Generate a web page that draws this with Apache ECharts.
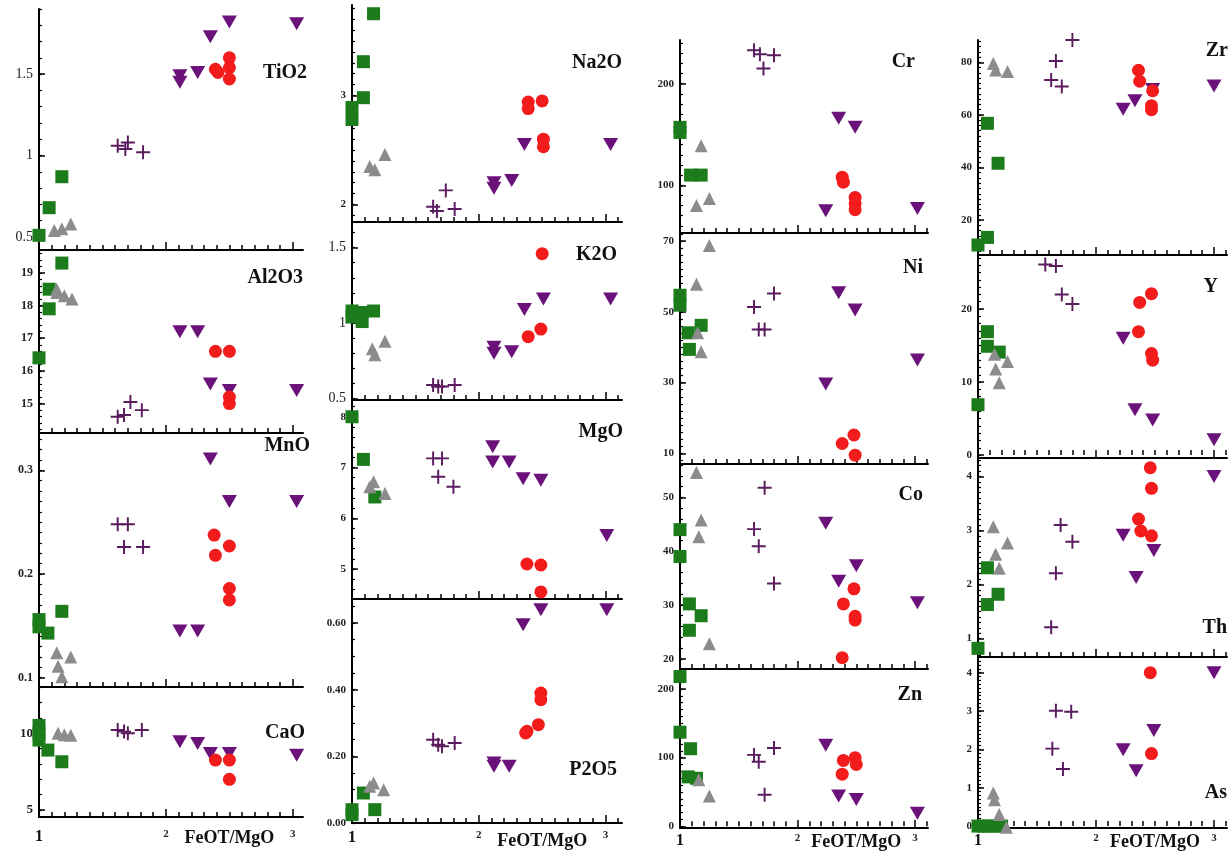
<!DOCTYPE html>
<html><head><meta charset="utf-8">
<script src="https://cdn.jsdelivr.net/npm/echarts@6/dist/echarts.min.js"></script>
<style>html,body{margin:0;padding:0;background:#fff}#c{width:1229px;height:851px}</style>
</head><body><div id="c"></div>
<script>
// ---------------- DATA (x = FeOT/MgO, y = oxide / element) ----------------
// sq = green squares, tri = grey triangles, plus = purple crosses, inv = purple inverted triangles, dot = red circles
const TiO2_sq   = [[1.0,0.51],[1.08,0.68],[1.18,0.87]];
const TiO2_tri  = [[1.12,0.54],[1.18,0.55],[1.25,0.58]];
const TiO2_plus = [[1.62,1.06],[1.68,1.04],[1.70,1.08],[1.82,1.02]];
const TiO2_inv  = [[2.11,1.49],[2.11,1.45],[2.25,1.51],[2.35,1.73],[2.50,1.82],[3.03,1.81]];
const TiO2_dot  = [[2.39,1.53],[2.41,1.51],[2.50,1.60],[2.50,1.54],[2.50,1.47]];

const Al2O3_sq   = [[1.18,19.3],[1.08,18.5],[1.08,17.9],[1.0,16.4]];
const Al2O3_tri  = [[1.14,18.5],[1.14,18.4],[1.20,18.3],[1.26,18.2]];
const Al2O3_plus = [[1.62,14.6],[1.67,14.65],[1.72,15.05],[1.81,14.8]];
const Al2O3_inv  = [[2.11,17.2],[2.25,17.2],[2.35,15.6],[2.50,15.4],[3.03,15.4]];
const Al2O3_dot  = [[2.39,16.6],[2.50,16.6],[2.50,15.2],[2.50,15.0]];

const MnO_sq   = [[1.0,0.156],[1.0,0.149],[1.07,0.143],[1.18,0.164]];
const MnO_tri  = [[1.14,0.124],[1.25,0.120],[1.15,0.111],[1.18,0.101]];
const MnO_plus = [[1.62,0.248],[1.70,0.248],[1.67,0.226],[1.82,0.226]];
const MnO_inv  = [[2.35,0.311],[2.50,0.270],[3.03,0.270],[2.11,0.145],[2.25,0.145]];
const MnO_dot  = [[2.38,0.2375],[2.50,0.227],[2.39,0.218],[2.50,0.186],[2.50,0.175]];

const CaO_sq   = [[1.0,10.5],[1.0,10.0],[1.0,9.55],[1.07,8.9],[1.18,8.14]];
const CaO_tri  = [[1.15,10.0],[1.20,9.9],[1.25,9.87]];
const CaO_plus = [[1.62,10.2],[1.67,10.1],[1.70,10.0],[1.81,10.2]];
const CaO_inv  = [[2.11,9.44],[2.25,9.33],[2.35,8.68],[2.50,8.68],[3.03,8.57]];
const CaO_dot  = [[2.39,8.25],[2.50,8.25],[2.50,7.0]];

const Na2O_sq   = [[1.17,3.75],[1.09,3.31],[1.09,2.98],[1.0,2.89],[1.0,2.78]];
const Na2O_tri  = [[1.14,2.35],[1.18,2.32],[1.26,2.46]];
const Na2O_plus = [[1.74,2.13],[1.64,1.98],[1.67,1.94],[1.81,1.96]];
const Na2O_inv  = [[2.12,2.20],[2.12,2.15],[2.26,2.22],[2.36,2.55],[3.04,2.55]];
const Na2O_dot  = [[2.39,2.94],[2.39,2.88],[2.50,2.95],[2.51,2.60],[2.51,2.53]];

const K2O_sq   = [[1.0,1.04],[1.0,1.08],[1.08,1.01],[1.08,1.07],[1.17,1.08]];
const K2O_tri  = [[1.16,0.83],[1.18,0.79],[1.26,0.88]];
const K2O_plus = [[1.64,0.59],[1.68,0.58],[1.71,0.58],[1.81,0.59]];
const K2O_inv  = [[2.12,0.84],[2.12,0.80],[2.26,0.81],[2.36,1.09],[2.51,1.16],[3.04,1.16]];
const K2O_dot  = [[2.50,1.46],[2.39,0.91],[2.49,0.96]];

const MgO_sq   = [[1.0,8.0],[1.09,7.16],[1.18,6.42]];
const MgO_tri  = [[1.17,6.72],[1.14,6.62],[1.26,6.49]];
const MgO_plus = [[1.64,7.18],[1.71,7.18],[1.68,6.82],[1.80,6.62]];
const MgO_inv  = [[2.11,7.41],[2.11,7.11],[2.24,7.11],[2.35,6.78],[2.49,6.75],[3.01,5.66]];
const MgO_dot  = [[2.38,5.10],[2.49,5.08],[2.49,4.55]];

const P2O5_sq   = [[1.0,0.04],[1.0,0.025],[1.09,0.09],[1.18,0.04]];
const P2O5_tri  = [[1.14,0.11],[1.17,0.12],[1.25,0.10]];
const P2O5_plus = [[1.64,0.25],[1.68,0.235],[1.71,0.23],[1.81,0.24]];
const P2O5_inv  = [[2.12,0.18],[2.12,0.17],[2.24,0.17],[2.35,0.595],[2.49,0.64],[3.01,0.64]];
const P2O5_dot  = [[2.49,0.39],[2.49,0.37],[2.38,0.275],[2.37,0.27],[2.47,0.295]];

const Cr_sq   = [[1.0,152],[1.0,157],[1.09,110],[1.18,110]];
const Cr_tri  = [[1.18,139],[1.14,80],[1.25,87]];
const Cr_plus = [[1.63,233],[1.68,229],[1.80,228],[1.71,215]];
const Cr_inv  = [[2.35,166],[2.49,157],[2.24,75],[3.02,77]];
const Cr_dot  = [[2.38,108],[2.39,103],[2.49,88],[2.49,82],[2.49,76]];

const Ni_sq   = [[1.0,54.7],[1.0,51.9],[1.07,44.1],[1.18,46.2],[1.08,39.4]];
const Ni_tri  = [[1.25,68.8],[1.14,57.8],[1.15,44.1],[1.18,38.7]];
const Ni_plus = [[1.80,55.2],[1.63,51.4],[1.67,45],[1.72,45]];
const Ni_inv  = [[2.35,55.4],[2.49,50.5],[2.24,29.6],[3.02,36.4]];
const Ni_dot  = [[2.38,12.8],[2.48,15.2],[2.49,9.5]];

const Co_sq   = [[1.0,44],[1.0,39],[1.08,30.2],[1.18,28],[1.08,25.3]];
const Co_tri  = [[1.14,54.6],[1.18,45.8],[1.16,42.7],[1.25,22.8]];
const Co_plus = [[1.72,51.8],[1.63,44.1],[1.67,40.9],[1.80,34]];
const Co_inv  = [[2.24,45.2],[2.35,34.4],[2.50,37.3],[3.02,30.4]];
const Co_dot  = [[2.48,33],[2.39,30.2],[2.49,27.9],[2.49,27.2],[2.38,20.2]];

const Zn_sq   = [[1.0,218],[1.0,137],[1.09,113],[1.07,72],[1.14,70]];
const Zn_tri  = [[1.16,68],[1.25,44]];
const Zn_plus = [[1.63,104],[1.67,94],[1.80,114],[1.72,46]];
const Zn_inv  = [[2.24,118],[2.35,44],[2.50,39],[3.02,19]];
const Zn_dot  = [[2.39,96],[2.49,100],[2.50,90],[2.38,76]];

const Zr_sq   = [[1.0,10.5],[1.08,13.4],[1.08,56.8],[1.17,41.6]];
const Zr_tri  = [[1.13,79.6],[1.15,77.1],[1.25,76.5]];
const Zr_plus = [[1.80,88.5],[1.66,80.5],[1.62,73.3],[1.71,70.8]];
const Zr_inv  = [[2.23,62.2],[2.33,65.4],[2.48,69.7],[3.0,71]];
const Zr_dot  = [[2.36,77],[2.37,72.8],[2.48,69.2],[2.47,63.5],[2.47,62]];

const Y_sq   = [[1.08,16.9],[1.08,14.9],[1.18,14.1],[1.0,6.9]];
const Y_tri  = [[1.14,13.8],[1.25,12.8],[1.15,11.8],[1.18,9.9]];
const Y_plus = [[1.57,26.1],[1.66,25.9],[1.71,22],[1.80,20.7]];
const Y_inv  = [[2.23,16],[2.33,6.2],[2.48,4.8],[3.0,2.1]];
const Y_dot  = [[2.47,22.1],[2.37,20.9],[2.36,16.9],[2.47,13.9],[2.48,13.0]];

const Th_sq   = [[1.0,0.82],[1.08,1.63],[1.17,1.82],[1.08,2.31]];
const Th_tri  = [[1.13,3.07],[1.25,2.77],[1.15,2.56],[1.18,2.3]];
const Th_plus = [[1.70,3.1],[1.80,2.79],[1.66,2.21],[1.62,1.21]];
const Th_inv  = [[2.23,2.91],[2.34,2.13],[2.49,2.63],[3.0,4.0]];
const Th_dot  = [[2.46,4.16],[2.47,3.78],[2.36,3.21],[2.38,2.99],[2.47,2.9]];

const As_sq   = [[1.0,0],[1.05,0],[1.10,0],[1.15,0],[1.20,0]];
const As_tri  = [[1.13,0.86],[1.14,0.69],[1.18,0.3],[1.24,-0.03]];
const As_plus = [[1.66,3.01],[1.79,2.98],[1.63,2.02],[1.72,1.49]];
const As_inv  = [[3.0,4.0],[2.49,2.49],[2.23,1.99],[2.34,1.44]];
const As_dot  = [[2.46,4.0],[2.47,1.89]];

// tick label values
const X_ticks     = [1, 2, 3];
const TiO2_ticks  = [0.5, 1, 1.5];
const Al2O3_ticks = [15, 16, 17, 18, 19];
const MnO_ticks   = [0.1, 0.2, 0.3];
const CaO_ticks   = [5, 10];
const Na2O_ticks  = [2, 3];
const K2O_ticks   = [0.5, 1, 1.5];
const MgO_ticks   = [5, 6, 7, 8];
const P2O5_ticks  = [0, 0.2, 0.4, 0.6];
const Cr_ticks    = [100, 200];
const Ni_ticks    = [10, 30, 50, 70];
const Co_ticks    = [20, 30, 40, 50];
const Zn_ticks    = [0, 100, 200];
const Zr_ticks    = [20, 40, 60, 80];
const Y_ticks     = [0, 10, 20];
const Th_ticks    = [1, 2, 3, 4];
const As_ticks    = [0, 1, 2, 3, 4];

const SERIES_DATA = {
  TiO2:[TiO2_sq,TiO2_tri,TiO2_plus,TiO2_inv,TiO2_dot],
  Al2O3:[Al2O3_sq,Al2O3_tri,Al2O3_plus,Al2O3_inv,Al2O3_dot],
  MnO:[MnO_sq,MnO_tri,MnO_plus,MnO_inv,MnO_dot],
  CaO:[CaO_sq,CaO_tri,CaO_plus,CaO_inv,CaO_dot],
  Na2O:[Na2O_sq,Na2O_tri,Na2O_plus,Na2O_inv,Na2O_dot],
  K2O:[K2O_sq,K2O_tri,K2O_plus,K2O_inv,K2O_dot],
  MgO:[MgO_sq,MgO_tri,MgO_plus,MgO_inv,MgO_dot],
  P2O5:[P2O5_sq,P2O5_tri,P2O5_plus,P2O5_inv,P2O5_dot],
  Cr:[Cr_sq,Cr_tri,Cr_plus,Cr_inv,Cr_dot],
  Ni:[Ni_sq,Ni_tri,Ni_plus,Ni_inv,Ni_dot],
  Co:[Co_sq,Co_tri,Co_plus,Co_inv,Co_dot],
  Zn:[Zn_sq,Zn_tri,Zn_plus,Zn_inv,Zn_dot],
  Zr:[Zr_sq,Zr_tri,Zr_plus,Zr_inv,Zr_dot],
  Y:[Y_sq,Y_tri,Y_plus,Y_inv,Y_dot],
  Th:[Th_sq,Th_tri,Th_plus,Th_inv,Th_dot],
  As:[As_sq,As_tri,As_plus,As_inv,As_dot]
};

// ---------------- LAYOUT / STYLE ----------------
const COLUMNS = [
  {left:39,  right:303,  xmax:3.08, labMargin:12, titleY:838},
  {left:352, right:622,  xmax:3.13, labMargin:7,  titleY:841},
  {left:680, right:928,  xmax:3.11, labMargin:5,  titleY:842},
  {left:978, right:1227, xmax:3.11, labMargin:5,  titleY:842}
];
const PANELS = [
  {key:'TiO2', col:0, top:9,   bottom:250, ymin:0.42, ymax:1.9,  ticks:TiO2_ticks,  minor:0.1,  tag:[307,73],  fs:14, fw:'normal'},
  {key:'Al2O3',col:0, top:250, bottom:433, ymin:14.1, ymax:19.7, ticks:Al2O3_ticks, minor:0.2,  tag:[303,278], fs:12, fw:'bold'},
  {key:'MnO',  col:0, top:433, bottom:687, ymin:0.091,ymax:0.336,ticks:MnO_ticks,   minor:0.01, tag:[310,446], fs:12, fw:'bold'},
  {key:'CaO',  col:0, top:687, bottom:817, ymin:4.55, ymax:13.0, ticks:CaO_ticks,   minor:1,    tag:[305,733], fs:13, fw:'bold'},
  {key:'Na2O', col:1, top:5,   bottom:222, ymin:1.84, ymax:3.83, ticks:Na2O_ticks,  minor:0.1,  tag:[622,63],  fs:11, fw:'bold'},
  {key:'K2O',  col:1, top:222, bottom:400, ymin:0.49, ymax:1.67, ticks:K2O_ticks,   minor:0.1,  tag:[617,255], fs:14, fw:'normal'},
  {key:'MgO',  col:1, top:400, bottom:599, ymin:4.41, ymax:8.33, ticks:MgO_ticks,   minor:0.2,  tag:[623,432], fs:11, fw:'bold'},
  {key:'P2O5', col:1, top:599, bottom:823, ymin:0,    ymax:0.672,ticks:P2O5_ticks,  minor:0.05, tag:[617,770], fs:11, fw:'bold', dec:2},
  {key:'Cr',   col:2, top:40,  bottom:233, ymin:53,   ymax:243,  ticks:Cr_ticks,    minor:10,   tag:[915,62],  fs:11, fw:'bold'},
  {key:'Ni',   col:2, top:233, bottom:464, ymin:7,    ymax:72.3, ticks:Ni_ticks,    minor:2,    tag:[923,268], fs:11, fw:'bold'},
  {key:'Co',   col:2, top:464, bottom:669, ymin:18.1, ymax:56.2, ticks:Co_ticks,    minor:2,    tag:[923,495], fs:11, fw:'bold'},
  {key:'Zn',   col:2, top:669, bottom:828, ymin:-2.4, ymax:229,  ticks:Zn_ticks,    minor:10,   tag:[922,695], fs:11, fw:'bold'},
  {key:'Zr',   col:3, top:40,  bottom:255, ymin:6.7,  ymax:88.5, ticks:Zr_ticks,    minor:2,    tag:[1228,51], fs:11, fw:'bold'},
  {key:'Y',    col:3, top:255, bottom:458, ymin:-0.4, ymax:27.4, ticks:Y_ticks,     minor:1,    tag:[1218,287],fs:11, fw:'bold'},
  {key:'Th',   col:3, top:458, bottom:657, ymin:0.66, ymax:4.34, ticks:Th_ticks,    minor:0.1,  tag:[1227,628],fs:11, fw:'bold'},
  {key:'As',   col:3, top:657, bottom:828, ymin:-0.05,ymax:4.41, ticks:As_ticks,    minor:0.1,  tag:[1227,793],fs:11, fw:'bold'}
];
const GROUPS = [
  {name:'sq',   color:'#1c7c1c', symbol:'rect', size:13},
  {name:'tri',  color:'#8c8c8c', symbol:'triangle', size:13},
  {name:'plus', color:'#5a1c5e', symbol:'path://M0,8.6H20V11.4H0ZM8.6,0H11.4V20H8.6Z', size:14},
  {name:'inv',  color:'#6a127a', symbol:'path://M0,0H20L10,18Z', size:[15,13]},
  {name:'dot',  color:'#f21c1c', symbol:'circle', size:13}
];
const SERIF = '"Liberation Serif","DejaVu Serif",serif';

function steps(a, b, s) {
  const out = [];
  const k0 = Math.ceil(a / s - 1e-9), k1 = Math.floor(b / s + 1e-9);
  for (let k = k0; k <= k1; k++) out.push(+(k * s).toFixed(6));
  return out;
}

const grid = [], xAxis = [], yAxis = [], series = [], graphic = [];
const lastInCol = {};
PANELS.forEach((p, i) => { lastInCol[p.col] = i; });

PANELS.forEach((p, i) => {
  const c = COLUMNS[p.col];
  const g = {left:c.left, top:p.top, width:c.right - c.left, height:p.bottom - p.top,
             containLabel:false, outerBoundsMode:'none'};
  const isBottom = lastInCol[p.col] === i;
  // main grid
  grid.push(Object.assign({}, g));
  const gi = grid.length - 1;
  xAxis.push({
    type:'value', gridIndex:gi, min:1, max:c.xmax,
    axisLine:{show:true, onZero:false, lineStyle:{color:'#000', width:2}},
    axisTick:{show:true, inside:true, length:8, customValues:X_ticks, lineStyle:{color:'#000', width:1.5}},
    axisLabel:{show:isBottom, customValues:X_ticks, margin:c.labMargin, color:'#111',
      formatter: v => v === 1 ? '{b|1}' : '{s|' + v + '}',
      rich:{b:{fontSize:16, fontWeight:'bold', fontFamily:SERIF, color:'#111'},
            s:{fontSize:11, fontWeight:'bold', fontFamily:SERIF, color:'#222'}}},
    splitLine:{show:false}
  });
  yAxis.push({
    type:'value', gridIndex:gi, min:p.ymin, max:p.ymax,
    axisLine:{show:true, onZero:false, lineStyle:{color:'#000', width:2}},
    axisTick:{show:true, inside:true, length:6, customValues:p.ticks, lineStyle:{color:'#000', width:1.5}},
    axisLabel:{show:true, customValues:p.ticks, margin:6, color:'#222', fontSize:p.fs, fontWeight:p.fw, fontFamily:SERIF,
      formatter: v => p.dec ? v.toFixed(p.dec) : String(+v.toFixed(4))},
    splitLine:{show:false}
  });
  SERIES_DATA[p.key].forEach((data, k) => {
    const G = GROUPS[k];
    series.push({type:'scatter', xAxisIndex:gi, yAxisIndex:gi, data:data, clip:false,
      symbol:G.symbol, symbolSize:G.size, itemStyle:{color:G.color, opacity:1},
      emphasis:{disabled:true}, z:3 + k});
  });
  // minor-tick grid (same rectangle)
  grid.push(Object.assign({}, g));
  const gm = grid.length - 1;
  xAxis.push({type:'value', gridIndex:gm, min:1, max:c.xmax,
    axisLine:{show:false}, axisLabel:{show:false}, splitLine:{show:false},
    axisTick:{show:true, inside:true, length:5, customValues:steps(1, c.xmax, 0.1), lineStyle:{color:'#000', width:1.5}}});
  yAxis.push({type:'value', gridIndex:gm, min:p.ymin, max:p.ymax,
    axisLine:{show:false}, axisLabel:{show:false}, splitLine:{show:false},
    axisTick:{show:true, inside:true, length:3, customValues:steps(p.ymin, p.ymax, p.minor), lineStyle:{color:'#000', width:1.2}}});
  // panel name
  graphic.push({type:'text', x:p.tag[0], y:p.tag[1], z:10,
    style:{text:p.key, textAlign:'right', textVerticalAlign:'middle', fill:'#111',
           fontSize:20, fontWeight:'bold', fontFamily:SERIF}});
});

const chart = echarts.init(document.getElementById('c'), null, {renderer:'canvas'});
chart.setOption({backgroundColor:'#fff', animation:false, grid, xAxis, yAxis, series, graphic});

// x-axis title under each column, centred at FeOT/MgO = 2.5
const extra = [];
PANELS.forEach((p, i) => {
  if (lastInCol[p.col] !== i) return;
  const c = COLUMNS[p.col];
  const px = chart.convertToPixel({xAxisIndex: 2 * i}, 2.5);
  extra.push({type:'text', x:px, y:c.titleY, z:10,
    style:{text:'FeOT/MgO', textAlign:'center', textVerticalAlign:'middle', fill:'#111',
           fontSize:18, fontWeight:'bold', fontFamily:SERIF}});
});
chart.setOption({graphic: graphic.concat(extra)});
</script></body></html>
